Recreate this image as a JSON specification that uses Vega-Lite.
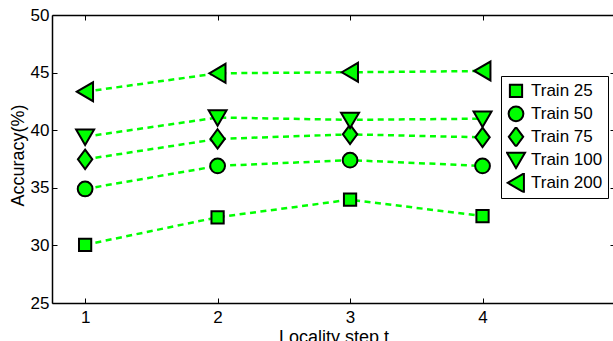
{
  "$schema": "https://vega.github.io/schema/vega-lite/v6.json",
  "width": 563,
  "height": 288,
  "autosize": {"type": "none"},
  "padding": {"left": 52, "top": 15, "right": 0, "bottom": 38},
  "config": {
    "font": "Liberation Sans",
    "view": {"stroke": null},
    "axis": {
      "grid": false,
      "domainColor": "black",
      "domainWidth": 1.5,
      "tickColor": "black",
      "tickWidth": 1,
      "labelFontSize": 17,
      "labelColor": "black",
      "titleFontSize": 18,
      "titleColor": "black",
      "titleFontWeight": "normal"
    },
    "legend": {
      "labelFontSize": 17,
      "labelColor": "black",
      "labelFont": "Liberation Sans"
    }
  },
  "data": {
    "values": [
      {"series": "Train 25", "step": 1, "acc": 30.05},
      {"series": "Train 25", "step": 2, "acc": 32.44},
      {"series": "Train 25", "step": 3, "acc": 33.97},
      {"series": "Train 25", "step": 4, "acc": 32.55},
      {"series": "Train 50", "step": 1, "acc": 34.9},
      {"series": "Train 50", "step": 2, "acc": 36.9},
      {"series": "Train 50", "step": 3, "acc": 37.4},
      {"series": "Train 50", "step": 4, "acc": 36.9},
      {"series": "Train 75", "step": 1, "acc": 37.47},
      {"series": "Train 75", "step": 2, "acc": 39.24},
      {"series": "Train 75", "step": 3, "acc": 39.64},
      {"series": "Train 75", "step": 4, "acc": 39.38},
      {"series": "Train 100", "step": 1, "acc": 39.44},
      {"series": "Train 100", "step": 2, "acc": 41.1},
      {"series": "Train 100", "step": 3, "acc": 40.9},
      {"series": "Train 100", "step": 4, "acc": 41.0},
      {"series": "Train 200", "step": 1, "acc": 43.34},
      {"series": "Train 200", "step": 2, "acc": 44.94},
      {"series": "Train 200", "step": 3, "acc": 45.03},
      {"series": "Train 200", "step": 4, "acc": 45.14}
    ]
  },
  "layer": [
    {
      "mark": {"type": "line", "color": "#00ff00", "strokeWidth": 2.5, "strokeDash": [6, 4.5]},
      "encoding": {
        "x": {
          "field": "step", "type": "quantitative",
          "scale": {"domain": [0.75, 5], "nice": false, "zero": false},
          "axis": {"orient": "bottom", "values": [1, 2, 3, 4], "tickSize": -5, "labelPadding": 11, "title": "Locality step t", "titleBaseline": "top", "titleY": 25}
        },
        "y": {
          "field": "acc", "type": "quantitative",
          "scale": {"domain": [25, 50], "nice": false, "zero": false},
          "axis": {"orient": "left", "values": [25, 30, 35, 40, 45, 50], "tickSize": -5, "labelPadding": 8, "title": "Accuracy(%)", "titleAngle": -90, "titleBaseline": "middle", "titleX": -34, "titleY": 140}
        },
        "detail": {"field": "series"}
      }
    },
    {
      "mark": {"type": "point", "filled": true, "opacity": 1, "size": 324},
      "encoding": {
        "x": {
          "field": "step", "type": "quantitative",
          "axis": {"orient": "top", "values": [1, 2, 3, 4], "tickSize": -5, "labels": false, "title": null}
        },
        "y": {
          "field": "acc", "type": "quantitative",
          "axis": {"orient": "right", "values": [25, 30, 35, 40, 45, 50], "tickSize": -5, "labels": false, "title": null}
        },
        "fill": {"value": "#00ff00"},
        "strokeWidth": {"value": 2},
        "stroke": {
          "field": "series", "type": "nominal",
          "scale": {"domain": ["Train 25", "Train 50", "Train 75", "Train 100", "Train 200"], "range": ["black", "black", "black", "black", "black"]},
          "legend": {"title": null, "orient": "none", "legendX": 449, "legendY": 61, "strokeColor": "black", "fillColor": "white", "padding": 5, "rowPadding": 3, "clipHeight": 19.7, "labelOffset": 5, "labelFontSize": 17, "symbolSize": 324, "symbolStrokeWidth": 2, "symbolFillColor": "#00ff00", "symbolOpacity": 1}
        },
        "shape": {
          "field": "series", "type": "nominal",
          "scale": {"domain": ["Train 25", "Train 50", "Train 75", "Train 100", "Train 200"],
            "range": [
              "M-0.68,-0.68L0.68,-0.68L0.68,0.68L-0.68,0.68Z",
              "M-0.82,0A0.82,0.82 0 1,0 0.82,0A0.82,0.82 0 1,0 -0.82,0Z",
              "M0,-1.08L0.8,0L0,1.08L-0.8,0Z",
              "M-1,-0.8L1,-0.8L0,0.92Z",
              "M-0.92,0L0.88,-1.05L0.88,1.05Z"
            ]},
          "legend": {"title": null, "orient": "none", "legendX": 449, "legendY": 61, "strokeColor": "black", "fillColor": "white", "padding": 5, "rowPadding": 3, "clipHeight": 19.7, "labelOffset": 5, "labelFontSize": 17, "symbolSize": 324, "symbolStrokeWidth": 2, "symbolFillColor": "#00ff00", "symbolOpacity": 1}
        }
      }
    }
  ],
  "resolve": {"axis": {"x": "independent", "y": "independent"}}
}
